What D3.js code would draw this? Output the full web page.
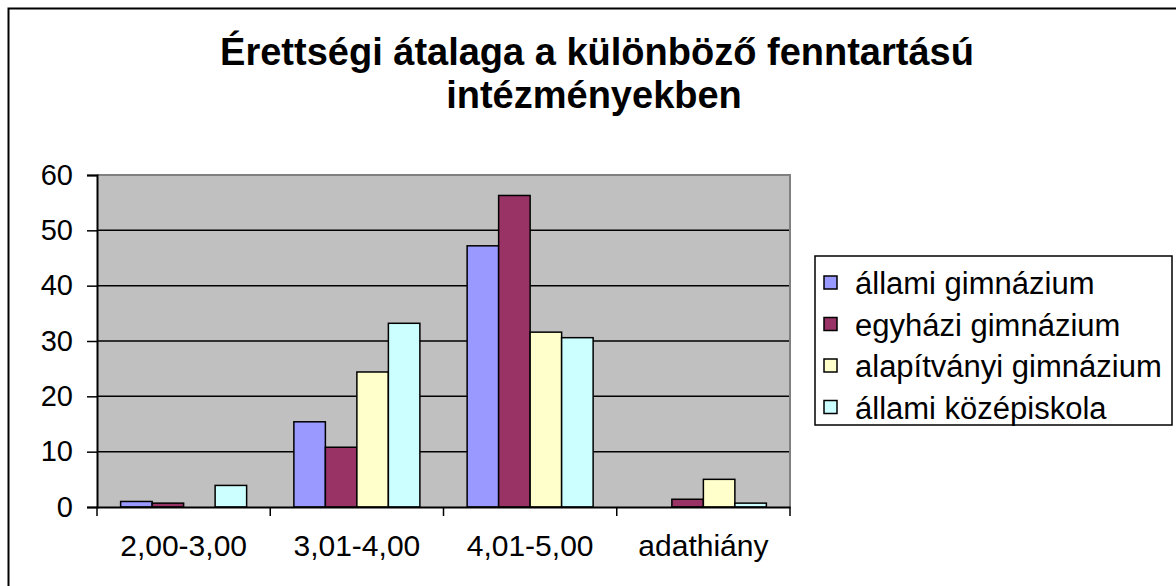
<!DOCTYPE html>
<html>
<head>
<meta charset="utf-8">
<script src="https://cdn.jsdelivr.net/npm/d3@7"></script>
<style>
  body { margin: 0; background: #fff; }
  text { font-family: "Liberation Sans", Arial, sans-serif; fill: #000; }
</style>
</head>
<body>
<div id="chart"></div>
<script>
const categories = ['2,00-3,00', '3,01-4,00', '4,01-5,00', 'adathiány']
const seriesNames = ['állami gimnázium', 'egyházi gimnázium', 'alapítványi gimnázium', 'állami középiskola']
const allamiGimn = [1.0, 15.4, 47.2, 0]
const egyhaziGimn = [0.7, 10.8, 56.3, 1.4]
const alapitvanyiGimn = [0, 24.4, 31.6, 5.0]
const allamiKozep = [3.9, 33.2, 30.6, 0.7]
const yTicks = [0, 10, 20, 30, 40, 50, 60]
const colors = ['#9999FF', '#993366', '#FFFFCC', '#CCFFFF']

const values = [allamiGimn, egyhaziGimn, alapitvanyiGimn, allamiKozep]

const width = 1176
const height = 586
const plot = { left: 97, top: 175, right: 790, bottom: 507 }
const FONT = '"Liberation Sans", Arial, sans-serif'

const svg = d3.select('#chart')
  .append('svg')
  .attr('width', width)
  .attr('height', height)

// outer chart border (runs off right/bottom edge)
svg.append('rect')
  .attr('x', 8.5).attr('y', 8.5)
  .attr('width', width + 20).attr('height', height + 20)
  .attr('fill', '#fff')
  .attr('stroke', '#000')
  .attr('stroke-width', 2)

// title
const title = svg.append('text')
  .attr('text-anchor', 'middle')
  .attr('font-size', 38)
  .attr('font-weight', 'bold')
title.append('tspan').attr('x', 597).attr('y', 65).text('Érettségi átalaga a különböző fenntartású')
title.append('tspan').attr('x', 594).attr('y', 108).text('intézményekben')

const x0 = d3.scaleBand()
  .domain(categories)
  .range([plot.left, plot.right])

const x1 = d3.scaleBand()
  .domain(d3.range(seriesNames.length))
  .range([0, x0.bandwidth()])
  .paddingInner(0)
  .paddingOuter(0.75)

const y = d3.scaleLinear()
  .domain([0, 60])
  .range([plot.bottom, plot.top])

// plot area background
svg.append('rect')
  .attr('x', plot.left).attr('y', plot.top)
  .attr('width', plot.right - plot.left).attr('height', plot.bottom - plot.top)
  .attr('fill', '#C0C0C0')

// gridlines
svg.append('g')
  .selectAll('line')
  .data(yTicks.filter(d => d > 0 && d < 60))
  .join('line')
  .attr('x1', plot.left).attr('x2', plot.right)
  .attr('y1', d => y(d)).attr('y2', d => y(d))
  .attr('stroke', '#000')
  .attr('stroke-width', 1.5)

// plot area top/right border
svg.append('path')
  .attr('d', `M${plot.left},${plot.top}H${plot.right}V${plot.bottom}`)
  .attr('fill', 'none')
  .attr('stroke', '#808080')
  .attr('stroke-width', 2)

// bars
svg.append('g')
  .selectAll('g')
  .data(categories)
  .join('g')
  .attr('transform', d => `translate(${x0(d)},0)`)
  .selectAll('rect')
  .data((d, i) => values.map((s, k) => ({ k, v: s[i] })))
  .join('rect')
  .filter(d => d.v > 0)
  .attr('x', d => x1(d.k))
  .attr('y', d => y(d.v))
  .attr('width', x1.bandwidth())
  .attr('height', d => y(0) - y(d.v))
  .attr('fill', d => colors[d.k])
  .attr('stroke', '#000')
  .attr('stroke-width', 1.5)

// y axis
const yAxis = svg.append('g')
  .attr('transform', `translate(${plot.left},0)`)
  .call(d3.axisLeft(y).tickValues(yTicks).tickSize(10).tickPadding(14).tickFormat(d3.format('d')))
yAxis.select('.domain').attr('stroke', '#000').attr('stroke-width', 2)
yAxis.selectAll('.tick line').attr('stroke', '#000').attr('stroke-width', 1.5)
yAxis.selectAll('.tick text').attr('font-size', 29).attr('font-family', FONT)

// x axis
const xAxis = svg.append('g')
  .attr('transform', `translate(0,${plot.bottom})`)
  .call(d3.axisBottom(x0).tickSize(0).tickPadding(28))
xAxis.select('.domain').attr('stroke', '#000').attr('stroke-width', 2)
xAxis.selectAll('.tick text').attr('font-size', 30).attr('font-family', FONT)

// x tick marks at category boundaries
svg.append('g')
  .selectAll('line')
  .data(d3.range(categories.length + 1))
  .join('line')
  .attr('x1', i => plot.left + i * x0.step())
  .attr('x2', i => plot.left + i * x0.step())
  .attr('y1', plot.bottom).attr('y2', plot.bottom + 9)
  .attr('stroke', '#000')
  .attr('stroke-width', 1.5)

// legend
const legend = svg.append('g').attr('transform', 'translate(815,256)')
legend.append('rect')
  .attr('width', 357).attr('height', 169)
  .attr('fill', '#fff')
  .attr('stroke', '#000')
  .attr('stroke-width', 1.5)

const items = legend.selectAll('g.item')
  .data(seriesNames)
  .join('g')
  .attr('class', 'item')
  .attr('transform', (d, i) => `translate(0,${27 + i * 41.5})`)
items.append('rect')
  .attr('x', 9).attr('y', -7)
  .attr('width', 13).attr('height', 13)
  .attr('fill', (d, i) => colors[i])
  .attr('stroke', '#000')
  .attr('stroke-width', 1.5)
items.append('text')
  .attr('x', 40).attr('y', 11)
  .attr('font-size', 31)
  .text(d => d)
</script>
</body>
</html>
